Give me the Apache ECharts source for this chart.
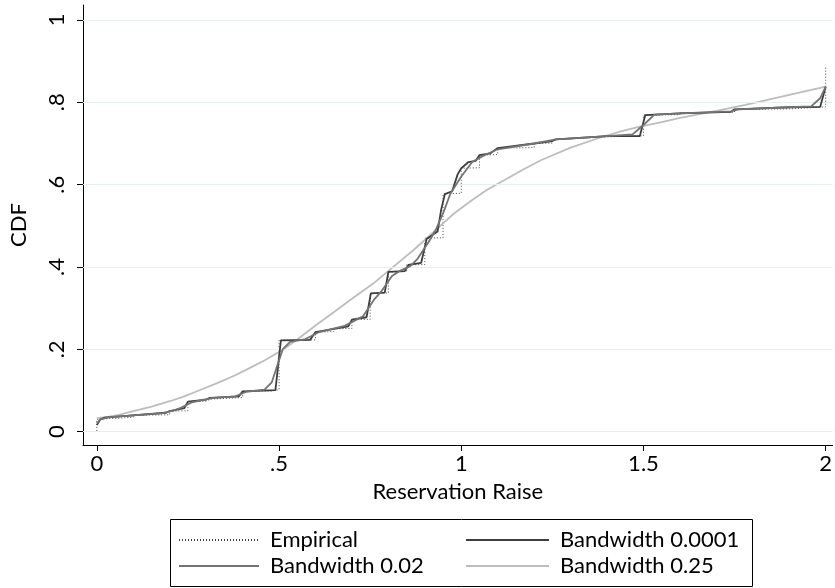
<!DOCTYPE html>
<html>
<head>
<meta charset="utf-8">
<script src="https://cdn.jsdelivr.net/npm/echarts@6/dist/echarts.min.js"></script>
<style>
html, body { margin: 0; padding: 0; background: #fff; }
#chart { width: 835px; height: 588px; }
</style>
</head>
<body>
<div id="chart"></div>
<script>
// Axis ticks and their labels
const xTicks = [0, 0.5, 1, 1.5, 2];
const xTickLabels = ['0', '.5', '1', '1.5', '2'];
const yTicks = [0, 0.2, 0.4, 0.6, 0.8, 1];
const yTickLabels = ['0', '.2', '.4', '.6', '.8', '1'];

// Empirical CDF: each distinct value gets a low and a high point (ties stack vertically)
const empX = [0, 0, 0.02, 0.02, 0.1, 0.1, 0.2, 0.2, 0.25, 0.25, 0.3, 0.3, 0.31, 0.31, 0.4, 0.4, 0.48, 0.48,
  0.5, 0.5, 0.6, 0.6, 0.65, 0.65, 0.7, 0.7, 0.75, 0.75, 0.8, 0.8, 0.85, 0.85, 0.9, 0.9, 0.95, 0.95,
  1.0, 1.0, 1.05, 1.05, 1.1, 1.1, 1.2, 1.2, 1.25, 1.25, 1.3, 1.3, 1.4, 1.4, 1.5, 1.5, 1.6, 1.6,
  1.75, 1.75, 1.9, 1.9, 2.0, 2.0];
const empY = [0.002, 0.03, 0.031, 0.034, 0.035, 0.04, 0.041, 0.05, 0.051, 0.073, 0.074, 0.078, 0.079, 0.082,
  0.083, 0.098, 0.099, 0.101, 0.102, 0.222, 0.223, 0.242, 0.243, 0.25, 0.251, 0.272, 0.273, 0.336,
  0.337, 0.388, 0.389, 0.405, 0.406, 0.47, 0.471, 0.578, 0.579, 0.64, 0.641, 0.672, 0.673, 0.689,
  0.69, 0.70, 0.701, 0.71, 0.711, 0.715, 0.716, 0.718, 0.719, 0.769, 0.770, 0.775, 0.776, 0.783,
  0.784, 0.788, 0.789, 0.885];

// Kernel-smoothed CDF, bandwidth 0.0001
const bwAX = [0, 0.01, 0.02, 0.09, 0.19, 0.20, 0.24, 0.25, 0.30, 0.31, 0.39, 0.40, 0.49, 0.505, 0.585, 0.6,
  0.69, 0.70, 0.74, 0.752, 0.79, 0.80, 0.845, 0.855, 0.89, 0.905, 0.935, 0.945, 0.955, 0.975, 0.99,
  1.0, 1.02, 1.04, 1.05, 1.08, 1.1, 1.2, 1.25, 1.26, 1.4, 1.49, 1.505, 1.6, 1.74, 1.75, 1.9, 1.985, 2.0];
const bwAY = [0.016, 0.03, 0.034, 0.039, 0.046, 0.05, 0.057, 0.073, 0.078, 0.082, 0.086, 0.098, 0.101, 0.222,
  0.223, 0.242, 0.256, 0.272, 0.278, 0.336, 0.338, 0.388, 0.39, 0.405, 0.41, 0.468, 0.486, 0.54,
  0.577, 0.584, 0.625, 0.64, 0.655, 0.658, 0.672, 0.676, 0.689, 0.70, 0.706, 0.71, 0.718, 0.718,
  0.769, 0.773, 0.777, 0.783, 0.788, 0.789, 0.838];

// Kernel-smoothed CDF, bandwidth 0.02
const bwBX = [0, 0.01, 0.03, 0.09, 0.18, 0.21, 0.23, 0.26, 0.29, 0.32, 0.38, 0.41, 0.46, 0.48, 0.495, 0.51,
  0.53, 0.57, 0.61, 0.68, 0.71, 0.73, 0.76, 0.78, 0.81, 0.83, 0.86, 0.88, 0.91, 0.93, 0.95, 0.97,
  1.0, 1.03, 1.06, 1.1, 1.2, 1.26, 1.4, 1.47, 1.5, 1.53, 1.6, 1.74, 1.76, 1.9, 1.96, 1.985, 2.0];
const bwBY = [0.02, 0.03, 0.035, 0.039, 0.045, 0.051, 0.058, 0.071, 0.077, 0.082, 0.086, 0.097, 0.102, 0.12,
  0.16, 0.2, 0.218, 0.224, 0.242, 0.257, 0.271, 0.28, 0.32, 0.34, 0.378, 0.39, 0.402, 0.42, 0.46,
  0.49, 0.53, 0.578, 0.62, 0.655, 0.67, 0.686, 0.70, 0.71, 0.718, 0.722, 0.745, 0.77, 0.773, 0.778,
  0.783, 0.788, 0.79, 0.81, 0.838];

// Kernel-smoothed CDF, bandwidth 0.25
const bwCX = [0, 0.03, 0.06, 0.1, 0.15, 0.2, 0.24, 0.28, 0.33, 0.38, 0.42, 0.46, 0.51, 0.55, 0.6, 0.65,
  0.7, 0.76, 0.81, 0.87, 0.9, 0.94, 0.98, 1.03, 1.07, 1.12, 1.17, 1.22, 1.3, 1.38, 1.44, 1.49, 1.55,
  1.6, 1.7, 1.78, 1.9, 2.0];
const bwCY = [0.033, 0.036, 0.041, 0.05, 0.061, 0.074, 0.086, 0.1, 0.118, 0.137, 0.155, 0.173, 0.199, 0.224,
  0.258, 0.29, 0.323, 0.361, 0.398, 0.442, 0.466, 0.498, 0.53, 0.563, 0.587, 0.612, 0.637, 0.66, 0.69,
  0.714, 0.73, 0.741, 0.752, 0.762, 0.779, 0.794, 0.818, 0.838];

const zip = (xs, ys) => xs.map((x, i) => [x, ys[i]]);
const FONT = 'Lato';
const FS = 22;

const chart = echarts.init(document.getElementById('chart'), null, { renderer: 'canvas' });

const lineSeries = (name, xs, ys, color, width, type, z) => ({
  name, type: 'line', data: zip(xs, ys), symbol: 'none', showSymbol: false,
  smooth: false, animation: false, z: z,
  lineStyle: { color, width, type },
  itemStyle: { color }
});

const empirical = lineSeries('Empirical', empX, empY, '#444444', 1, [1, 2], 3);
empirical.markLine = {
  silent: true, symbol: 'none', animation: false,
  label: { show: false },
  lineStyle: { color: '#e6eef0', width: 1.2, type: 'solid' },
  data: yTicks.map(v => ({ yAxis: v }))
};

const legendCommon = {
  orient: 'vertical', top: 524, itemHeight: 20, itemGap: 4,
  itemStyle: { opacity: 0, borderWidth: 0 },
  textStyle: { fontFamily: FONT, fontSize: FS, color: '#000', padding: [0, 0, 0, 6] },
  selectedMode: false
};

chart.setOption({
  backgroundColor: '#ffffff',
  animation: false,
  textStyle: { fontFamily: FONT },
  grid: { left: 76, right: 0, top: 5, bottom: 143, containLabel: false },
  xAxis: {
    type: 'value', min: -0.038, max: 2.019,
    name: 'Reservation Raise', nameLocation: 'middle', nameGap: 36,
    nameTextStyle: { fontFamily: FONT, fontSize: FS, color: '#000' },
    axisLine: { show: true, onZero: false, lineStyle: { color: '#000', width: 1 } },
    axisTick: { show: true, length: 6, customValues: xTicks, lineStyle: { color: '#000', width: 1 } },
    axisLabel: {
      customValues: xTicks, margin: 8, color: '#000', fontFamily: FONT, fontSize: FS,
      formatter: v => xTickLabels[xTicks.indexOf(v)]
    },
    splitLine: { show: false }
  },
  yAxis: {
    type: 'value', min: -0.0323, max: 1.0364,
    name: 'CDF', nameLocation: 'middle', nameGap: 53, nameRotate: 90,
    nameTextStyle: { fontFamily: FONT, fontSize: FS, color: '#000' },
    axisLine: { show: true, onZero: false, lineStyle: { color: '#000', width: 1 } },
    axisTick: { show: true, length: 6, customValues: yTicks, lineStyle: { color: '#000', width: 1 } },
    axisLabel: {
      customValues: yTicks, rotate: 90, margin: 15, color: '#000', fontFamily: FONT, fontSize: FS,
      formatter: v => yTickLabels[yTicks.indexOf(v)]
    },
    splitLine: { show: false }
  },
  legend: [
    Object.assign({}, legendCommon, { left: 173, itemWidth: 80, data: ['Empirical', 'Bandwidth 0.02'] }),
    Object.assign({}, legendCommon, { left: 460, itemWidth: 83, data: ['Bandwidth 0.0001', 'Bandwidth 0.25'] })
  ],
  graphic: [
    {
      type: 'rect', left: 168, top: 517, silent: true,
      shape: { width: 582, height: 67 },
      style: { fill: 'none', stroke: '#000', lineWidth: 1 }
    }
  ],
  series: [
    empirical,
    lineSeries('Bandwidth 0.25', bwCX, bwCY, '#bdbdbd', 1.8, 'solid', 4),
    lineSeries('Bandwidth 0.0001', bwAX, bwAY, '#3d3d3d', 1.8, 'solid', 5),
    lineSeries('Bandwidth 0.02', bwBX, bwBY, '#737373', 1.8, 'solid', 6)
  ]
});
</script>
</body>
</html>
